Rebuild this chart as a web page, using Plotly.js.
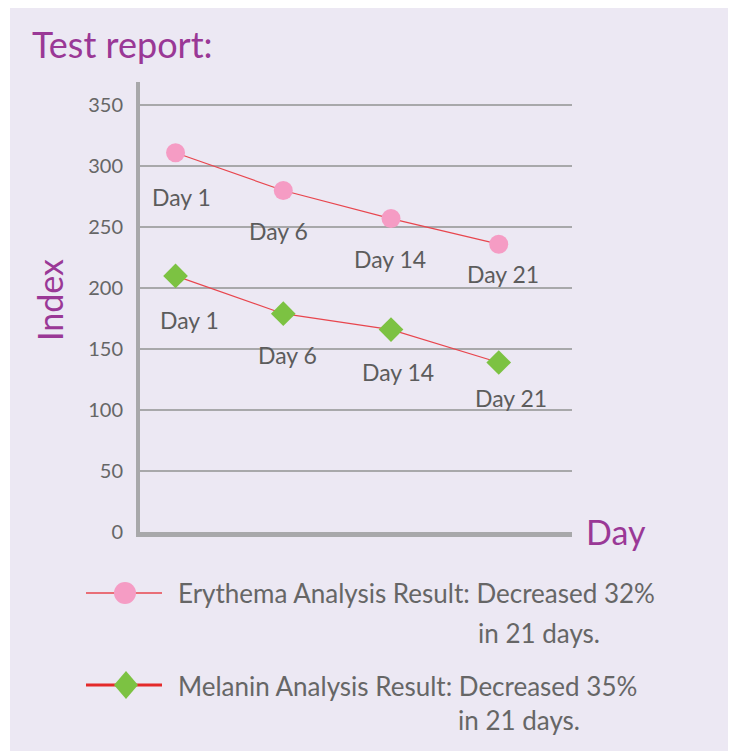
<!DOCTYPE html>
<html>
<head>
<meta charset="utf-8">
<script src="https://cdn.plot.ly/plotly-3.0.1.min.js"></script>
<style>html,body{margin:0;padding:0;background:#fff;}#chart{width:731px;height:751px;}</style>
</head>
<body>
<div id="chart"></div>
<script>
// ---- data ----
const days = ['Day 1', 'Day 6', 'Day 14', 'Day 21'];
const erythema = [311, 280, 257, 236];
const melanin = [210, 179, 166, 139];
const erythemaName = 'Erythema Analysis Result: Decreased 32%';
const melaninName = 'Melanin Analysis Result: Decreased 35%';
const legendSecondLine = 'in 21 days.';
const yTicks = [0, 50, 100, 150, 200, 250, 300, 350];

// ---- styling ----
const W = 731, H = 751;
const M = {l: 140, r: 159, t: 82, b: 219};
const PW = W - M.l - M.r, PH = H - M.t - M.b;
const PX = x => (x - M.l) / PW;
const PY = y => (H - M.b - y) / PH;
const FONT = 'Lato, "Open Sans", sans-serif';
const PURPLE = '#9a3896';
const GREY_TXT = '#5c5c5c';
const AXIS = '#a8a8aa';
const LINE_RED = '#e8464e';
const PINK = '#f59cc4';
const GREEN = '#7cc242';

const eryShift = [[6, -44], [-5, -40], [-1, -40], [4, -30]];
const melShift = [[14, -44], [4, -41], [7, -42], [12, -36]];

const traces = [
  {x: days, y: erythema, name: erythemaName, type: 'scatter', mode: 'lines+markers',
   line: {color: LINE_RED, width: 1.2}, marker: {symbol: 'circle', size: 19, color: PINK}},
  {x: days, y: melanin, name: melaninName, type: 'scatter', mode: 'lines+markers',
   line: {color: LINE_RED, width: 1.2}, marker: {symbol: 'diamond', size: 19, color: GREEN}}
];

const annotations = [];
days.forEach((d, i) => {
  annotations.push({x: d, y: erythema[i], xref: 'x', yref: 'y', text: d, showarrow: false,
    xshift: eryShift[i][0], yshift: eryShift[i][1], font: {family: FONT, size: 23, color: GREY_TXT}});
  annotations.push({x: d, y: melanin[i], xref: 'x', yref: 'y', text: d, showarrow: false,
    xshift: melShift[i][0], yshift: melShift[i][1], font: {family: FONT, size: 23, color: GREY_TXT}});
});
annotations.push({xref: 'paper', yref: 'paper', x: PX(584), y: PY(531), xanchor: 'left', yanchor: 'middle',
  text: 'Day', showarrow: false, font: {family: FONT, size: 34, color: PURPLE}});
annotations.push({xref: 'paper', yref: 'paper', x: PX(49), y: PY(300), xanchor: 'center', yanchor: 'middle', textangle: -90,
  text: 'Index', showarrow: false, font: {family: FONT, size: 34, color: PURPLE}});
// legend text
const legFont = {family: FONT, size: 26, color: '#666'};
annotations.push({xref: 'paper', yref: 'paper', x: PX(176), y: PY(593), xanchor: 'left', yanchor: 'middle',
  text: erythemaName, showarrow: false, font: legFont});
annotations.push({xref: 'paper', yref: 'paper', x: PX(476), y: PY(633), xanchor: 'left', yanchor: 'middle',
  text: legendSecondLine, showarrow: false, font: legFont});
annotations.push({xref: 'paper', yref: 'paper', x: PX(176), y: PY(686), xanchor: 'left', yanchor: 'middle',
  text: melaninName, showarrow: false, font: legFont});
annotations.push({xref: 'paper', yref: 'paper', x: PX(456), y: PY(720), xanchor: 'left', yanchor: 'middle',
  text: legendSecondLine, showarrow: false, font: legFont});

const shapes = [
  // white borders around the lavender panel
  {type: 'rect', xref: 'paper', yref: 'paper', x0: PX(-5), x1: PX(W + 5), y0: PY(-5), y1: PY(8), fillcolor: '#fff', line: {width: 0}, layer: 'below'},
  {type: 'rect', xref: 'paper', yref: 'paper', x0: PX(-5), x1: PX(10), y0: PY(-5), y1: PY(H + 5), fillcolor: '#fff', line: {width: 0}, layer: 'below'},
  {type: 'rect', xref: 'paper', yref: 'paper', x0: PX(728), x1: PX(W + 5), y0: PY(-5), y1: PY(H + 5), fillcolor: '#fff', line: {width: 0}, layer: 'below'},
  // legend symbols
  {type: 'line', xref: 'paper', yref: 'paper', x0: PX(86), x1: PX(162), y0: PY(593), y1: PY(593), line: {color: LINE_RED, width: 1.5}},
  {type: 'circle', xref: 'paper', yref: 'paper', xsizemode: 'pixel', ysizemode: 'pixel', xanchor: PX(125), yanchor: PY(593),
   x0: -11, x1: 11, y0: -11, y1: 11, fillcolor: PINK, line: {width: 0}},
  {type: 'line', xref: 'paper', yref: 'paper', x0: PX(86), x1: PX(162), y0: PY(685), y1: PY(685), line: {color: '#e42a2a', width: 3}},
  {type: 'path', xref: 'paper', yref: 'paper', xsizemode: 'pixel', ysizemode: 'pixel', xanchor: PX(126), yanchor: PY(685),
   path: 'M -12 0 L 0 14 L 12 0 L 0 -14 Z', fillcolor: GREEN, line: {width: 0}}
];

const layout = {
  width: W, height: H,
  margin: M,
  paper_bgcolor: '#ece8f3',
  plot_bgcolor: 'rgba(0,0,0,0)',
  showlegend: false,
  title: {text: 'Test report:', xref: 'container', yref: 'container', x: 32 / W, xanchor: 'left',
    y: 1 - 45 / H, yanchor: 'middle', font: {family: FONT, size: 36, color: PURPLE}},
  xaxis: {type: 'category', range: [-0.33, 3.68], showticklabels: false, showgrid: false, zeroline: false,
    showline: true, linecolor: AXIS, linewidth: 5, ticks: ''},
  yaxis: {range: [0, 369], tickvals: yTicks, showgrid: true, gridcolor: AXIS, gridwidth: 2, zeroline: false,
    showline: true, linecolor: AXIS, linewidth: 4, ticks: 'outside', ticklen: 9, tickcolor: 'rgba(0,0,0,0)',
    tickfont: {family: FONT, size: 20, color: '#666'}},
  annotations: annotations,
  shapes: shapes
};

Plotly.newPlot('chart', traces, layout, {displayModeBar: false, staticPlot: true});
</script>
</body>
</html>
